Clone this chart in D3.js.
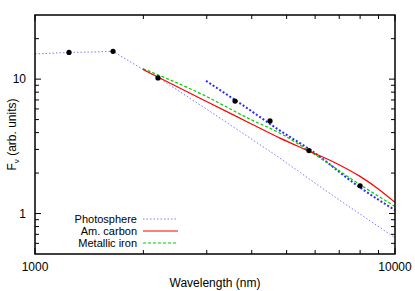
<!DOCTYPE html>
<html>
<head>
<meta charset="utf-8">
<script src="https://cdn.jsdelivr.net/npm/d3@7"></script>
<style>
  body { margin: 0; background: #fff; }
  text { font-family: "Liberation Sans", Arial, sans-serif; }
</style>
</head>
<body>
<div class="container"></div>
<script>
// photometry points (nm, flux)
var obsWave = [1243, 1647, 2196, 3594, 4496, 5768, 8000];
var obsFlux = [15.8, 16.1, 10.2, 6.87, 4.89, 2.94, 1.61];

// photosphere model
var photWave = [1000, 1243, 1421, 1647, 1995, 2196, 3023, 4700, 4850, 6590, 10000];
var photFlux = [15.4, 15.8, 15.9, 16.1, 11.8, 10.3, 5.89, 2.68, 2.52, 1.41, 0.66];

// amorphous carbon model
var carbWave = [1995, 2873, 3956, 4791, 5623, 6813, 7995, 8970, 10000];
var carbFlux = [11.8, 7.2, 4.70, 3.64, 3.00, 2.39, 1.89, 1.53, 1.21];

// metallic iron model
var ironWave = [1995, 2873, 3956, 4791, 5995, 7997, 10000];
var ironFlux = [11.97, 7.84, 5.04, 3.96, 2.74, 1.64, 1.13];

// fit to the IRAC points (not in legend)
var fitWave = [2986, 3710, 4791, 5813, 7997, 10000];
var fitFlux = [9.71, 6.61, 4.14, 2.98, 1.56, 1.06];

var legendNames = ["Photosphere", "Am. carbon", "Metallic iron"];

var width = 415, height = 291;
var margin = {left: 35, top: 15, right: 20, bottom: 37};

var svg = d3.select(".container").append("svg")
  .attr("width", width)
  .attr("height", height);

var x = d3.scaleLog().domain([1000, 10000]).range([margin.left, width - margin.right]);
var y = d3.scaleLog().domain([0.5, 30]).range([height - margin.bottom, margin.top]);

function zip(a, b) { return a.map(function (d, i) { return [d, b[i]]; }); }

var line = d3.line()
  .x(function (d) { return x(d[0]); })
  .y(function (d) { return y(d[1]); })
  .curve(d3.curveMonotoneX);

var straight = d3.line()
  .x(function (d) { return x(d[0]); })
  .y(function (d) { return y(d[1]); });

var plot = svg.append("g");

plot.append("path").datum(zip(photWave, photFlux))
  .attr("d", straight).attr("fill", "none")
  .attr("stroke", "#7a7aff").attr("stroke-width", 1)
  .attr("stroke-dasharray", "1.5,2");

plot.append("path").datum(zip(fitWave, fitFlux))
  .attr("d", line).attr("fill", "none")
  .attr("stroke", "#2a2aff").attr("stroke-width", 2)
  .attr("stroke-dasharray", "2,2");

plot.append("path").datum(zip(ironWave, ironFlux))
  .attr("d", line).attr("fill", "none")
  .attr("stroke", "#00cc00").attr("stroke-width", 1.2)
  .attr("stroke-dasharray", "3,2");

plot.append("path").datum(zip(carbWave, carbFlux))
  .attr("d", line).attr("fill", "none")
  .attr("stroke", "#ff0000").attr("stroke-width", 1.2);

plot.selectAll("circle")
  .data(zip(obsWave, obsFlux))
  .join("circle")
  .attr("cx", function (d) { return x(d[0]); })
  .attr("cy", function (d) { return y(d[1]); })
  .attr("r", 2.6)
  .attr("fill", "#000");

// axes with inward ticks on all sides
var xTicks = d3.range(1, 11).map(function (d) { return d * 1000; });
var yTicks = [0.6, 0.7, 0.8, 0.9, 1, 2, 3, 4, 5, 6, 7, 8, 9, 10, 20];
var x0 = x.range()[0], x1 = x.range()[1], y0 = y.range()[0], y1 = y.range()[1];

var ticks = svg.append("g").attr("stroke", "#000").attr("stroke-width", 1);
xTicks.forEach(function (t) {
  var len = (t === 1000 || t === 10000) ? 6 : 4;
  ticks.append("line").attr("x1", x(t)).attr("x2", x(t)).attr("y1", y0).attr("y2", y0 - len);
  ticks.append("line").attr("x1", x(t)).attr("x2", x(t)).attr("y1", y1).attr("y2", y1 + len);
});
yTicks.forEach(function (t) {
  var len = (t === 1 || t === 10) ? 6 : 4;
  ticks.append("line").attr("y1", y(t)).attr("y2", y(t)).attr("x1", x0).attr("x2", x0 + len);
  ticks.append("line").attr("y1", y(t)).attr("y2", y(t)).attr("x1", x1).attr("x2", x1 - len);
});

svg.append("rect")
  .attr("x", x0).attr("y", y1)
  .attr("width", x1 - x0).attr("height", y0 - y1)
  .attr("fill", "none").attr("stroke", "#000").attr("stroke-width", 1.5);

[1, 10].forEach(function (t) {
  svg.append("text").attr("x", x0 - 9).attr("y", y(t)).attr("dy", "0.35em")
    .attr("text-anchor", "end").attr("font-size", 12).text(t);
});
[1000, 10000].forEach(function (t) {
  svg.append("text").attr("x", x(t)).attr("y", y0 + 17)
    .attr("text-anchor", "middle").attr("font-size", 12).text(t);
});

svg.append("text").attr("x", (x0 + x1) / 2).attr("y", height - 4)
  .attr("text-anchor", "middle").attr("font-size", 12).text("Wavelength (nm)");

var yl = svg.append("text")
  .attr("transform", "translate(16," + ((y0 + y1) / 2) + ") rotate(-90)")
  .attr("text-anchor", "middle").attr("font-size", 12);
yl.append("tspan").text("F");
yl.append("tspan").attr("font-size", 8).attr("dy", 3).text("ν");
yl.append("tspan").attr("dy", -3).text(" (arb. units)");

// legend
var legStyles = [
  {stroke: "#7a7aff", dash: "1.5,2", w: 1},
  {stroke: "#ff0000", dash: "none", w: 1.2},
  {stroke: "#00cc00", dash: "3,2", w: 1.2}
];
var leg = svg.append("g");
legendNames.forEach(function (n, i) {
  var ly = 219 + i * 12;
  leg.append("text").attr("x", 137).attr("y", ly).attr("dy", "0.35em")
    .attr("text-anchor", "end").attr("font-size", 11).text(n);
  leg.append("line").attr("x1", 143).attr("x2", 178).attr("y1", ly).attr("y2", ly)
    .attr("stroke", legStyles[i].stroke).attr("stroke-width", legStyles[i].w)
    .attr("stroke-dasharray", legStyles[i].dash);
});
</script>
</body>
</html>
